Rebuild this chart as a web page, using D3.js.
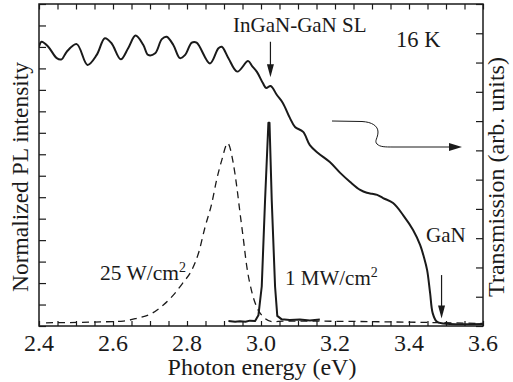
<!DOCTYPE html>
<html>
<head>
<meta charset="utf-8">
<script src="https://cdn.jsdelivr.net/npm/d3@7"></script>
<style>
  html, body { margin: 0; padding: 0; background: #fff; }
  svg { display: block; }
  text { font-family: "Liberation Serif", "Times New Roman", serif; fill: #1a1a1a; }
</style>
</head>
<body>
<svg id="chart" width="513" height="382"></svg>
<script>
// ---- data ----
const xTickValues = [2.4, 2.6, 2.8, 3.0, 3.2, 3.4, 3.6];

// Transmission (right axis, arb. units)
const transEnergy = [2.400, 2.407, 2.425, 2.448, 2.461, 2.475, 2.502, 2.531, 2.556, 2.578, 2.596, 2.621, 2.641, 2.661, 2.682, 2.695, 2.714, 2.732, 2.745, 2.763, 2.781, 2.795, 2.813, 2.826, 2.862, 2.885, 2.894, 2.912, 2.936, 2.965, 2.976, 2.989, 3.005, 3.014, 3.026, 3.043, 3.059, 3.078, 3.092, 3.114, 3.132, 3.154, 3.186, 3.214, 3.241, 3.268, 3.286, 3.300, 3.314, 3.330, 3.357, 3.384, 3.411, 3.430, 3.441, 3.449, 3.457, 3.464, 3.475, 3.492, 3.600];
const transValue  = [9.54, 9.71, 9.54, 9.15, 9.11, 9.37, 9.63, 8.92, 9.26, 9.83, 9.66, 9.11, 9.49, 9.92, 9.60, 9.26, 9.32, 9.80, 9.88, 9.60, 9.15, 9.26, 9.68, 9.68, 8.97, 9.49, 9.54, 9.15, 8.69, 9.05, 8.88, 8.68, 8.30, 8.13, 8.20, 7.89, 7.62, 7.11, 6.80, 6.63, 6.18, 5.91, 5.60, 5.23, 4.92, 4.65, 4.55, 4.52, 4.48, 4.37, 4.20, 3.79, 3.28, 2.77, 2.32, 1.91, 1.13, 0.44, 0.15, 0.085, 0.07];

// PL at 1 MW/cm^2 (solid, left axis)
const plHighEnergy = [2.912, 2.930, 2.943, 2.958, 2.970, 2.984, 2.993, 3.002, 3.011, 3.020, 3.023, 3.029, 3.038, 3.044, 3.056, 3.078, 3.105, 3.132, 3.159];
const plHighValue  = [0.023, 0.020, 0.022, 0.020, 0.025, 0.023, 0.050, 0.184, 0.587, 0.947, 0.947, 0.587, 0.184, 0.047, 0.031, 0.028, 0.030, 0.026, 0.030];

// PL at 25 W/cm^2 (dashed, left axis)
const plLowEnergy = [2.419, 2.565, 2.628, 2.664, 2.705, 2.736, 2.763, 2.788, 2.813, 2.831, 2.849, 2.867, 2.880, 2.894, 2.910, 2.925, 2.935, 2.943, 2.952, 2.961, 2.975, 2.988, 3.006, 3.033, 3.060, 3.600];
const plLowValue  = [0.015, 0.019, 0.023, 0.036, 0.059, 0.098, 0.144, 0.199, 0.261, 0.339, 0.462, 0.572, 0.680, 0.773, 0.851, 0.759, 0.643, 0.531, 0.410, 0.284, 0.160, 0.090, 0.043, 0.020, 0.023, 0.012];

// ---- layout ----
const svg = d3.select("#chart");
const L = 39, R = 483, T = 4, B = 326;
const x  = d3.scaleLinear().domain([2.4, 3.6]).range([L, R]);
const yL = d3.scaleLinear().domain([0, 1.5]).range([B, T]);
const yR = d3.scaleLinear().domain([0, 11]).range([B, T]);
const ink = "#1a1a1a";

// axes (ticks inward)
const bottomAxis = d3.axisBottom(x).tickValues(d3.range(2.4, 3.6001, 0.05)).tickSize(-5).tickFormat("");
const topAxis = d3.axisTop(x).tickValues(d3.range(2.4, 3.6001, 0.05)).tickSize(-5.5).tickFormat("");
const leftAxis = d3.axisLeft(yL).tickValues(d3.range(0, 1.5001, 0.1)).tickSize(-7).tickFormat("");
const rightAxis = d3.axisRight(yR).tickValues(d3.range(0, 11.001, 1)).tickSize(-7).tickFormat("");

function styleAxis(g) {
  g.select(".domain").remove();
  g.selectAll(".tick line").attr("stroke", ink).attr("stroke-width", 1.2);
}
svg.append("g").attr("transform", `translate(0,${B})`).call(bottomAxis).call(styleAxis);
svg.append("g").attr("transform", `translate(0,${T})`).call(topAxis).call(styleAxis);
svg.append("g").attr("transform", `translate(${L},0)`).call(leftAxis).call(styleAxis);
svg.append("g").attr("transform", `translate(${R},0)`).call(rightAxis).call(styleAxis);

// frame
svg.append("rect").attr("x", L).attr("y", T).attr("width", R - L).attr("height", B - T)
  .attr("fill", "none").attr("stroke", ink).attr("stroke-width", 1.5);

// tick labels
svg.append("g").selectAll("text").data(xTickValues).join("text")
  .attr("x", d => x(d)).attr("y", 351)
  .attr("text-anchor", "middle").attr("font-size", 24)
  .text(d => d.toFixed(1));

// axis titles
svg.append("text").attr("x", (L + R) / 2 + 1).attr("y", 375)
  .attr("text-anchor", "middle").attr("font-size", 24).text("Photon energy (eV)");
svg.append("text").attr("transform", `translate(28,${(T + B) / 2 + 12}) rotate(-90)`)
  .attr("text-anchor", "middle").attr("font-size", 23.5).text("Normalized PL intensity");
svg.append("text").attr("transform", `translate(504,${(T + B) / 2 + 12}) rotate(-90)`)
  .attr("text-anchor", "middle").attr("font-size", 24).text("Transmission (arb. units)");

// curves
const clip = svg.append("clipPath").attr("id", "plot").append("rect")
  .attr("x", L).attr("y", T).attr("width", R - L).attr("height", B - T);
const plot = svg.append("g").attr("clip-path", "url(#plot)");

const lineT = d3.line().x((d, i) => x(transEnergy[i])).y(d => yR(d)).curve(d3.curveCatmullRom.alpha(0.5));
const lineH = d3.line().x((d, i) => x(plHighEnergy[i])).y(d => yL(d));
const lineLo = d3.line().x((d, i) => x(plLowEnergy[i])).y(d => yL(d)).curve(d3.curveMonotoneX);

plot.append("path").attr("d", lineLo(plLowValue)).attr("fill", "none")
  .attr("stroke", ink).attr("stroke-width", 1.3).attr("stroke-dasharray", "7,5");
plot.append("path").attr("d", lineH(plHighValue)).attr("fill", "none")
  .attr("stroke", ink).attr("stroke-width", 2).attr("stroke-linejoin", "round");
plot.append("path").attr("d", lineT(transValue)).attr("fill", "none")
  .attr("stroke", ink).attr("stroke-width", 2).attr("stroke-linejoin", "round");

// annotations
function downArrow(e, v1, v2) {
  const xa = x(e), y1 = yR(v1), y2 = yR(v2);
  svg.append("line").attr("x1", xa).attr("x2", xa).attr("y1", y1).attr("y2", y2 - 10)
    .attr("stroke", ink).attr("stroke-width", 1.2);
  svg.append("path").attr("d", `M${xa - 3.5},${y2 - 13} L${xa + 3.5},${y2 - 13} L${xa},${y2} Z`).attr("fill", ink);
}
downArrow(3.0255, 9.71, 8.5);
downArrow(3.488, 1.74, 0.26);

// curvy arrow pointing to right axis
svg.append("path")
  .attr("d", "M332,121 L362,121.5 C372,122 378,126 378,132 C378,138 374,141 377,144 C380,147 385,147 393,147 L452,147")
  .attr("fill", "none").attr("stroke", ink).attr("stroke-width", 1);
svg.append("path").attr("d", "M449,143 L462,147 L449,151 Z").attr("fill", ink);

svg.append("text").attr("x", 233).attr("y", 32).attr("font-size", 21).text("InGaN-GaN SL");
svg.append("text").attr("x", 396).attr("y", 47).attr("font-size", 22.5).text("16 K");
svg.append("text").attr("x", 426).attr("y", 242).attr("font-size", 21).text("GaN");

const t25 = svg.append("text").attr("x", 100).attr("y", 280).attr("font-size", 21.5);
t25.append("tspan").text("25 W/cm");
t25.append("tspan").attr("font-size", 14).attr("dy", -8).text("2");
const t1 = svg.append("text").attr("x", 285).attr("y", 285).attr("font-size", 21);
t1.append("tspan").text("1 MW/cm");
t1.append("tspan").attr("font-size", 14).attr("dy", -8).text("2");
</script>
</body>
</html>
